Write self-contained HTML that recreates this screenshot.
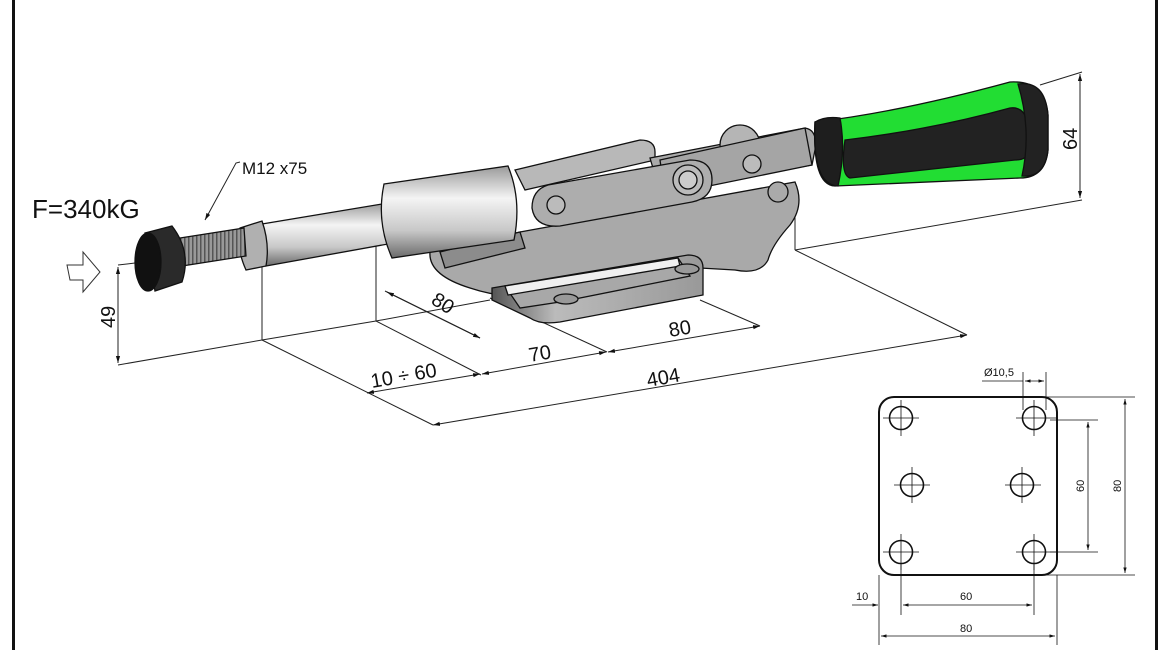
<!DOCTYPE html>
<html><head><meta charset="utf-8"><style>
html,body{margin:0;padding:0;background:#fff}
svg{display:block}
text{font-family:"Liberation Sans","DejaVu Sans",sans-serif;fill:#111}
</style></head><body>
<svg width="1170" height="650" viewBox="0 0 1170 650" xmlns="http://www.w3.org/2000/svg">
<defs>
<linearGradient id="cyl" x1="0" y1="0" x2="0" y2="1">
<stop offset="0" stop-color="#9a9a9a"/><stop offset="0.35" stop-color="#f4f4f4"/><stop offset="0.7" stop-color="#c8c8c8"/><stop offset="1" stop-color="#6a6a6a"/></linearGradient>
<linearGradient id="plate" x1="0" y1="0" x2="1" y2="0">
<stop offset="0" stop-color="#555"/><stop offset="0.3" stop-color="#bbb"/><stop offset="1" stop-color="#999"/></linearGradient>
<pattern id="thr" width="4" height="40" patternUnits="userSpaceOnUse"><rect width="4" height="40" fill="#999"/><rect width="1.5" height="40" fill="#555"/></pattern>
<marker id="ar" viewBox="0 0 10 10" refX="10" refY="5" markerWidth="7" markerHeight="7" orient="auto-start-reverse"><path d="M0,2 L10,5 L0,8 z" fill="#111"/></marker>
</defs>

<rect x="12" y="0" width="3" height="650" fill="#111"/>
<rect x="1155" y="0" width="3" height="650" fill="#111"/>

<g stroke="#222" stroke-width="1" fill="none">
<line x1="118" y1="365" x2="262" y2="340"/>
<line x1="262" y1="340" x2="376" y2="321"/>
<line x1="376" y1="321" x2="490" y2="300"/>
<line x1="262" y1="340" x2="262" y2="263"/>
<line x1="376" y1="321" x2="376" y2="243"/>
<line x1="262" y1="340" x2="433" y2="425"/>
<line x1="376" y1="321" x2="481" y2="375"/>
<line x1="490" y1="298" x2="607" y2="352"/>
<line x1="700" y1="300" x2="760" y2="326"/>
<line x1="795" y1="250" x2="967" y2="335"/>
<line x1="795" y1="250" x2="1082" y2="200"/>
<line x1="795" y1="250" x2="795" y2="200"/>
<line x1="1040" y1="85" x2="1082" y2="72"/>
<line x1="118" y1="265" x2="135" y2="263"/>
<line x1="385" y1="291" x2="480" y2="338"/>
<line x1="118" y1="267" x2="118" y2="363" marker-start="url(#ar)" marker-end="url(#ar)"/>
<line x1="1080" y1="74" x2="1080" y2="198" marker-start="url(#ar)" marker-end="url(#ar)"/>
<line x1="367" y1="393" x2="480" y2="374" marker-start="url(#ar)" marker-end="url(#ar)"/>
<line x1="482" y1="374" x2="606" y2="352" marker-start="url(#ar)" marker-end="url(#ar)"/>
<line x1="608" y1="352" x2="760" y2="326" marker-start="url(#ar)" marker-end="url(#ar)"/>
<line x1="433" y1="425" x2="967" y2="335" marker-start="url(#ar)" marker-end="url(#ar)"/>
<line x1="387" y1="292" x2="480" y2="338" marker-start="url(#ar)" marker-end="url(#ar)"/>
<polyline points="240,162 236,163 205,220" marker-end="url(#ar)"/>
</g>

<path d="M67,265 L83,265 L83,252 L100,272 L83,292 L83,280 L70,280 Z" fill="#fff" stroke="#333" stroke-width="1"/>

<text x="32" y="218" font-size="26">F=340kG</text>
<text x="242" y="174" font-size="17">M12 x75</text>
<text font-size="20" transform="translate(115,328) rotate(-90)">49</text>
<text font-size="20" transform="translate(1077,150) rotate(-90)">64</text>
<text font-size="20" transform="translate(372,388) rotate(-10)">10 ÷ 60</text>
<text font-size="20" transform="translate(530,362) rotate(-10)">70</text>
<text font-size="20" transform="translate(670,337) rotate(-10)">80</text>
<text font-size="20" transform="translate(648,387) rotate(-10)">404</text>
<text font-size="20" transform="translate(430,303) rotate(32)">80</text>

<g stroke="#111" stroke-width="1.3">
<path d="M515,170 L640,140 Q655,140 655,152 L655,160 L525,190 Z" fill="#b8b8b8"/>
<path d="M430,252 L520,232 L795,182 Q805,205 790,225 Q772,245 768,260 Q760,275 735,270 L700,268 L530,296 Q500,298 470,288 Q428,275 430,252 Z" fill="#a9a9a9"/>
<path d="M440,252 L520,232 L525,248 L445,268 Z" fill="#8c8c8c"/>
<path d="M492,288 L688,255 Q703,255 703,268 L703,295 L560,322 Q540,325 530,318 L492,300 Z" fill="url(#plate)"/>
<path d="M505,286 L678,258 L690,276 L560,302 L520,308 Z" fill="#a8a8a8"/>
<path d="M505,286 L678,258 L680,266 L508,295 Z" fill="#f0f0f0"/>
<ellipse cx="566" cy="299" rx="12" ry="5" fill="#999"/>
<ellipse cx="687" cy="269" rx="12" ry="5" fill="#999"/>
<path d="M262,224 L388,203 L388,244 L266,266 Z" fill="url(#cyl)"/>
<path d="M240,228 L262,221 Q270,244 266,266 L246,270 Q236,248 240,228 Z" fill="#b0b0b0"/>
<path d="M180,238 L244,228 L246,256 L182,266 Z" fill="url(#thr)"/>
<path d="M145,233 L172,226 Q192,252 182,282 L155,291 Z" fill="#2a2a2a"/>
<ellipse cx="148" cy="262" rx="13" ry="29" fill="#111"/>
<path d="M384,184 L508,166 Q522,200 514,240 L392,258 Q376,222 384,184 Z" fill="url(#cyl)"/>
<path d="M650,158 L805,128 Q818,130 815,150 L812,165 L660,192 Z" fill="#aaa"/>
<circle cx="740" cy="145" r="20" fill="#b5b5b5"/>
<path d="M660,160 L805,128 L812,165 L665,195 Z" fill="#a5a5a5"/>
<path d="M548,185 L690,160 Q712,160 712,180 Q712,198 692,202 L560,226 Q535,228 532,208 Q532,190 548,185 Z" fill="#adadad"/>
<circle cx="556" cy="205" r="9" fill="#bbb"/>
<circle cx="688" cy="180" r="15" fill="#bbb"/>
<circle cx="688" cy="180" r="9" fill="#ccc"/>
<circle cx="752" cy="164" r="9" fill="#bbb"/>
<circle cx="778" cy="192" r="10" fill="#aaa"/>
<path d="M815,122 Q900,112 1010,82 Q1045,80 1048,115 L1048,150 Q1045,178 1020,178 L835,186 Q812,185 815,122 Z" fill="#22dd33"/>
<path d="M845,140 Q930,130 1010,108 Q1025,106 1028,125 L1030,150 Q1028,160 1015,160 L850,178 Q840,175 845,140 Z" fill="#222"/>
<path d="M815,122 Q825,116 840,118 Q846,150 838,186 Q812,185 815,122 Z" fill="#1e1e1e"/>
<path d="M1018,84 Q1045,80 1048,115 L1048,150 Q1045,178 1022,176 Q1032,130 1018,84 Z" fill="#222"/>
</g>

<g stroke="#111" fill="none">
<rect x="879" y="397" width="178" height="178" rx="15" stroke-width="2"/>
<g stroke-width="1.6">
<circle cx="901" cy="418" r="11.5"/><circle cx="1034" cy="418" r="11.5"/>
<circle cx="912" cy="485" r="11.5"/><circle cx="1022" cy="485" r="11.5"/>
<circle cx="901" cy="552" r="11.5"/><circle cx="1034" cy="552" r="11.5"/>
</g>
<g stroke-width="0.8">
<path d="M883,418h36M901,400v36M1016,418h40M1034,400v36M894,485h36M912,467v36M1005,485h36M1022,467v36M883,552h36M901,534v36M1016,552h40M1034,534v36"/>
<line x1="1023" y1="372" x2="1023" y2="410"/><line x1="1046" y1="372" x2="1046" y2="410"/>
<line x1="982" y1="381" x2="1023" y2="381"/>
<line x1="1025" y1="381" x2="1044" y2="381" marker-start="url(#ar)" marker-end="url(#ar)"/>
<line x1="1044" y1="397" x2="1135" y2="397"/><line x1="1044" y1="575" x2="1135" y2="575"/>
<line x1="1050" y1="420" x2="1098" y2="420"/><line x1="1050" y1="552" x2="1098" y2="552"/>
<line x1="1088" y1="422" x2="1088" y2="550" marker-start="url(#ar)" marker-end="url(#ar)"/>
<line x1="1125" y1="399" x2="1125" y2="573" marker-start="url(#ar)" marker-end="url(#ar)"/>
<line x1="879" y1="575" x2="879" y2="645"/><line x1="1057" y1="575" x2="1057" y2="645"/>
<line x1="901" y1="564" x2="901" y2="615"/><line x1="1034" y1="564" x2="1034" y2="615"/>
<line x1="852" y1="605" x2="878" y2="605" marker-end="url(#ar)"/>
<line x1="903" y1="605" x2="1032" y2="605" marker-start="url(#ar)" marker-end="url(#ar)"/>
<line x1="881" y1="636" x2="1055" y2="636" marker-start="url(#ar)" marker-end="url(#ar)"/>
</g>
</g>
<text x="984" y="376" font-size="11">Ø10,5</text>
<text x="856" y="600" font-size="11">10</text>
<text x="960" y="600" font-size="11">60</text>
<text x="960" y="632" font-size="11">80</text>
<text font-size="11" transform="translate(1084,492) rotate(-90)">60</text>
<text font-size="11" transform="translate(1121,492) rotate(-90)">80</text>
</svg>
</body></html>
